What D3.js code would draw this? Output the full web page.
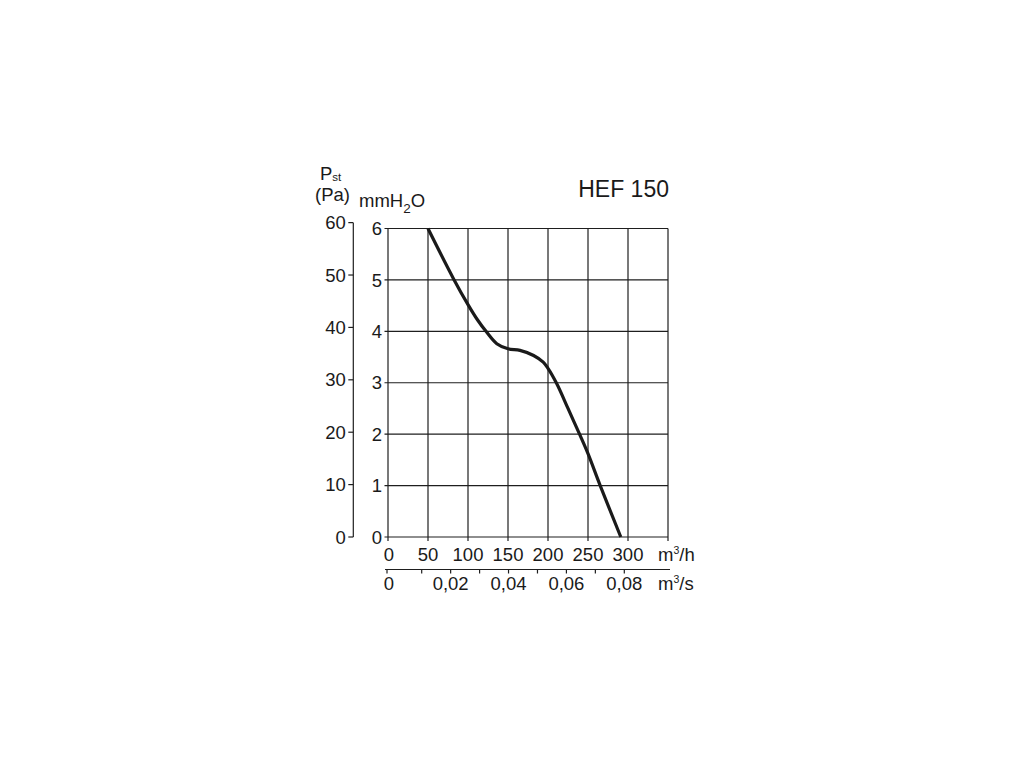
<!DOCTYPE html>
<html>
<head>
<meta charset="utf-8">
<script src="https://cdn.jsdelivr.net/npm/d3@7/dist/d3.min.js"></script>
<style>
  html, body { margin: 0; padding: 0; background: #fff; }
  svg { display: block; }
  text { font-family: "Liberation Sans", Arial, Helvetica, sans-serif; fill: #1a1a1a; }
</style>
</head>
<body>
<svg id="chart" width="1024" height="768"></svg>
<script>
// ---- data ----
const title = "HEF 150";
const flowTicksH = [0, 50, 100, 150, 200, 250, 300];        // m³/h
const flowGridH = [0, 50, 100, 150, 200, 250, 300, 350];
const pressTicksMm = [0, 1, 2, 3, 4, 5, 6];                  // mmH2O
const pressTicksPa = [0, 10, 20, 30, 40, 50, 60];            // Pa
const flowTicksS = [0.01, 0.02, 0.03, 0.04, 0.05, 0.06, 0.07, 0.08]; // m³/s
const flowLabelsS = ["0,02", "0,04", "0,06", "0,08"];
// fan curve: [m³/h, mmH2O]
const curveFlow = [50, 82, 100, 112, 123, 136, 150, 165, 182, 194, 200, 211, 225, 240, 250, 265, 291];
const curvePress = [6.0, 5.02, 4.52, 4.22, 3.99, 3.76, 3.66, 3.63, 3.53, 3.40, 3.28, 2.98, 2.50, 1.98, 1.62, 1.01, 0.0];

// ---- layout ----
const svg = d3.select("#chart");
const x = d3.scaleLinear().domain([0, 350]).range([388, 668]);
const y = d3.scaleLinear().domain([0, 6]).range([537, 228.5]);
const yPa = d3.scaleLinear().domain([0, 60 / 9.81]).range([537, 537 - (60 / 9.81) * 51.4]);
const yPaVal = v => yPa(v / 9.81);
const xS = d3.scaleLinear().domain([0.01, 0.08]).range([421.7, 624.3]);

const ink = "#1e1e1e";
const fs = 18.5;
const dyMid = 6.6;

// grid
const g = svg.append("g");
g.selectAll("line.v").data(flowGridH).enter().append("line")
  .attr("x1", d => x(d)).attr("x2", d => x(d))
  .attr("y1", y(6)).attr("y2", y(0))
  .attr("stroke", ink).attr("stroke-width", 1.2);
g.selectAll("line.h").data(pressTicksMm).enter().append("line")
  .attr("x1", x(0) - 3.5).attr("x2", x(350))
  .attr("y1", d => y(d)).attr("y2", d => y(d))
  .attr("stroke", ink).attr("stroke-width", 1.2);
// bottom ticks
g.selectAll("line.bt").data(flowGridH).enter().append("line")
  .attr("x1", d => x(d)).attr("x2", d => x(d))
  .attr("y1", y(0)).attr("y2", y(0) + 4)
  .attr("stroke", ink).attr("stroke-width", 1.2);

// mmH2O labels
g.selectAll("text.mm").data(pressTicksMm).enter().append("text")
  .attr("x", x(0) - 6).attr("y", d => y(d) + dyMid)
  .attr("text-anchor", "end").attr("font-size", fs).text(d => d);

// Pa axis
const paX = 353.3;
g.append("line").attr("x1", paX).attr("x2", paX)
  .attr("y1", yPaVal(60)).attr("y2", yPaVal(0))
  .attr("stroke", ink).attr("stroke-width", 1.2);
g.selectAll("line.pa").data(pressTicksPa).enter().append("line")
  .attr("x1", paX - 5).attr("x2", paX)
  .attr("y1", d => yPaVal(d)).attr("y2", d => yPaVal(d))
  .attr("stroke", ink).attr("stroke-width", 1.2);
g.selectAll("text.pa").data(pressTicksPa).enter().append("text")
  .attr("x", paX - 7.5).attr("y", d => yPaVal(d) + dyMid)
  .attr("text-anchor", "end").attr("font-size", fs).text(d => d);

// m³/h labels
g.selectAll("text.fh").data(flowTicksH).enter().append("text")
  .attr("x", d => x(d) + (d === 0 ? 1 : 0)).attr("y", 561)
  .attr("text-anchor", "middle").attr("font-size", fs).text(d => d);
const uh = g.append("text").attr("x", 658).attr("y", 561).attr("font-size", fs);
uh.append("tspan").text("m");
uh.append("tspan").attr("font-size", 10.5).attr("dy", -7.5).text("3");
uh.append("tspan").attr("dy", 7.5).text("/h");

// m³/s axis
const sY = 569.5;
g.append("line").attr("x1", x(0) - 3).attr("x2", x(350) + 2)
  .attr("y1", sY).attr("y2", sY).attr("stroke", ink).attr("stroke-width", 1.2);
g.selectAll("line.st").data(flowTicksS).enter().append("line")
  .attr("x1", d => xS(d)).attr("x2", d => xS(d))
  .attr("y1", sY).attr("y2", sY + 4)
  .attr("stroke", ink).attr("stroke-width", 1.2);
g.append("line").attr("x1", x(0) - 1).attr("x2", x(0) - 1)
  .attr("y1", sY).attr("y2", sY + 4).attr("stroke", ink).attr("stroke-width", 1.2);
g.append("text").attr("x", x(0) + 1).attr("y", 590)
  .attr("text-anchor", "middle").attr("font-size", fs).text("0");
g.selectAll("text.fs").data(flowLabelsS).enter().append("text")
  .attr("x", d => xS(+d.replace(",", "."))).attr("y", 590)
  .attr("text-anchor", "middle").attr("font-size", fs).text(d => d);
const us = g.append("text").attr("x", 658).attr("y", 590).attr("font-size", fs);
us.append("tspan").text("m");
us.append("tspan").attr("font-size", 10.5).attr("dy", -7.5).text("3");
us.append("tspan").attr("dy", 7.5).text("/s");

// axis titles
const pst = g.append("text").attr("x", 320).attr("y", 179.5).attr("font-size", fs);
pst.append("tspan").text("P");
pst.append("tspan").attr("font-size", 11.5).attr("dy", 1.5).text("st");
g.append("text").attr("x", 315).attr("y", 201).attr("font-size", fs).text("(Pa)");
const mm = g.append("text").attr("x", 359).attr("y", 207).attr("font-size", fs);
mm.append("tspan").text("mmH");
mm.append("tspan").attr("font-size", 13.5).attr("dy", 6).text("2");
mm.append("tspan").attr("dy", -6).text("O");

// title
g.append("text").attr("x", 669).attr("y", 196.5).attr("text-anchor", "end")
  .attr("font-size", 23).text(title);

// curve
const pts = curveFlow.map((f, i) => [f, curvePress[i]]);
const line = d3.line().x(d => x(d[0])).y(d => y(d[1])).curve(d3.curveCatmullRom.alpha(0.5));
svg.append("path").attr("d", line(pts))
  .attr("fill", "none").attr("stroke", "#1a1a1a").attr("stroke-width", 3.2)
  .attr("stroke-linecap", "butt");
</script>
</body>
</html>
